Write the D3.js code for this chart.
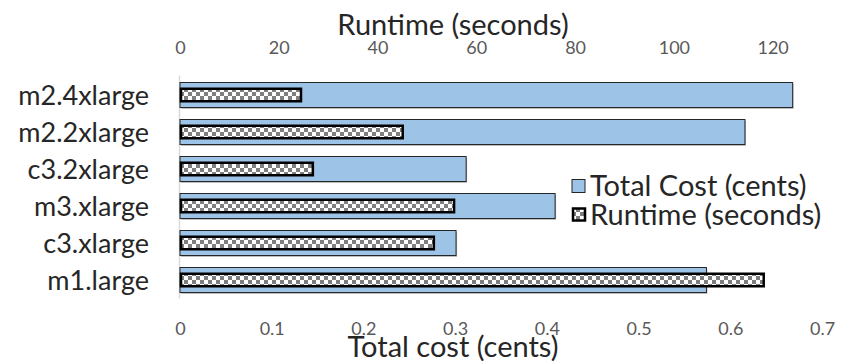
<!DOCTYPE html>
<html>
<head>
<meta charset="utf-8">
<script src="https://cdn.jsdelivr.net/npm/d3@7"></script>
<style>
  html, body { margin: 0; padding: 0; background: #fff; }
  svg { display: block; }
</style>
</head>
<body>
<svg id="chart" width="841" height="362"></svg>
<script>
// Instance types, listed top to bottom
const instances = ["m2.4xlarge", "m2.2xlarge", "c3.2xlarge", "m3.xlarge", "c3.xlarge", "m1.large"];
// Total cost per run, in cents
const costCents = [0.668, 0.616, 0.312, 0.409, 0.301, 0.574];
// Runtime per run, in seconds
const runtimeSec = [24.5, 45.1, 26.9, 55.5, 51.4, 118.2];
// Axis tick values
const costTicks = [0, 0.1, 0.2, 0.3, 0.4, 0.5, 0.6, 0.7];
const runtimeTicks = [0, 20, 40, 60, 80, 100, 120];
const seriesNames = ["Total Cost (cents)", "Runtime (seconds)"];

const svg = d3.select("#chart");
const plotLeft = 180, plotRight = 822, plotTop = 76.5, plotBottom = 298.5;

const xCost = d3.scaleLinear().domain([0, 0.7]).range([plotLeft, plotRight]);
const xRun = d3.scaleLinear().domain([0, 130]).range([plotLeft, plotRight]);
const y = d3.scaleBand().domain(instances).range([plotTop, plotBottom])
  .paddingInner(12 / 37).paddingOuter(6 / 37);

// checkerboard fill for the runtime bars
const defs = svg.append("defs");
const pat = defs.append("pattern").attr("id", "checker")
  .attr("patternUnits", "userSpaceOnUse").attr("width", 8).attr("height", 8);
pat.append("rect").attr("width", 8).attr("height", 8).attr("fill", "#ffffff");
pat.append("rect").attr("width", 4).attr("height", 4).attr("fill", "#7f7f7f");
pat.append("rect").attr("x", 4).attr("y", 4).attr("width", 4).attr("height", 4).attr("fill", "#7f7f7f");

const font = "Lato, 'Open Sans', sans-serif";

// vertical category axis line
svg.append("line")
  .attr("x1", plotLeft - 0.5).attr("x2", plotLeft - 0.5)
  .attr("y1", plotTop - 1).attr("y2", plotBottom)
  .attr("stroke", "#d9d9d9").attr("stroke-width", 1.5);

const rows = instances.map((d, i) => ({ name: d, cost: costCents[i], run: runtimeSec[i] }));

// cost bars
const costG = svg.append("g");
costG.selectAll("rect.shadow").data(rows).join("rect")
  .attr("class", "shadow")
  .attr("x", plotLeft + 1)
  .attr("y", d => y(d.name) + 1.5)
  .attr("width", d => xCost(d.cost) - plotLeft)
  .attr("height", y.bandwidth())
  .attr("fill", "#bfbfbf");
costG.selectAll("rect.bar").data(rows).join("rect")
  .attr("class", "bar")
  .attr("x", plotLeft)
  .attr("y", d => y(d.name))
  .attr("width", d => xCost(d.cost) - plotLeft)
  .attr("height", y.bandwidth())
  .attr("fill", "#9dc3e6")
  .attr("stroke", "#262626").attr("stroke-width", 1);

// runtime bars, drawn over the cost bars
const runH = y.bandwidth() * 0.5;
svg.append("g").selectAll("rect").data(rows).join("rect")
  .attr("x", plotLeft + 1)
  .attr("y", d => y(d.name) + (y.bandwidth() - runH) / 2)
  .attr("width", d => xRun(d.run) - plotLeft - 1)
  .attr("height", runH)
  .attr("fill", "url(#checker)")
  .attr("stroke", "#000").attr("stroke-width", 2.5);

// category labels
svg.append("g").selectAll("text").data(instances).join("text")
  .attr("x", 149)
  .attr("y", d => y(d) + y.bandwidth() / 2)
  .attr("dy", "0.36em")
  .attr("text-anchor", "end")
  .attr("font-family", font).attr("font-size", 27)
  .attr("fill", "#262626")
  .text(d => d);

// top axis: runtime
const topAxis = d3.axisTop(xRun).tickValues(runtimeTicks).tickSize(0).tickPadding(0);
const gTop = svg.append("g").attr("transform", "translate(0,54)").call(topAxis);
gTop.select(".domain").remove();
gTop.selectAll("text").attr("font-family", font).attr("font-size", 18).attr("fill", "#595959");

// bottom axis: cost
const botAxis = d3.axisBottom(xCost).tickValues(costTicks).tickSize(0).tickPadding(0)
  .tickFormat(d => d === 0 ? "0" : d3.format(".1f")(d));
const gBot = svg.append("g").attr("transform", "translate(0,322)").call(botAxis);
gBot.select(".domain").remove();
gBot.selectAll("text").attr("font-family", font).attr("font-size", 18).attr("fill", "#595959");

// axis titles
svg.append("text").attr("x", 453).attr("y", 35)
  .attr("text-anchor", "middle").attr("font-family", font).attr("font-size", 29)
  .attr("fill", "#262626").text("Runtime (seconds)");
svg.append("text").attr("x", 453).attr("y", 357)
  .attr("text-anchor", "middle").attr("font-family", font).attr("font-size", 29)
  .attr("fill", "#262626").text("Total cost (cents)");

// legend
const leg = svg.append("g");
leg.append("rect").attr("x", 572).attr("y", 179.5).attr("width", 13).attr("height", 13)
  .attr("fill", "#9dc3e6").attr("stroke", "#262626").attr("stroke-width", 1);
leg.append("rect").attr("x", 573).attr("y", 208.5).attr("width", 12).attr("height", 12)
  .attr("fill", "url(#checker)").attr("stroke", "#000").attr("stroke-width", 2.5);
leg.selectAll("text").data(seriesNames).join("text")
  .attr("x", 590).attr("y", (d, i) => 196 + i * 29)
  .attr("font-family", font).attr("font-size", 29)
  .attr("fill", "#262626")
  .text(d => d);
</script>
</body>
</html>
